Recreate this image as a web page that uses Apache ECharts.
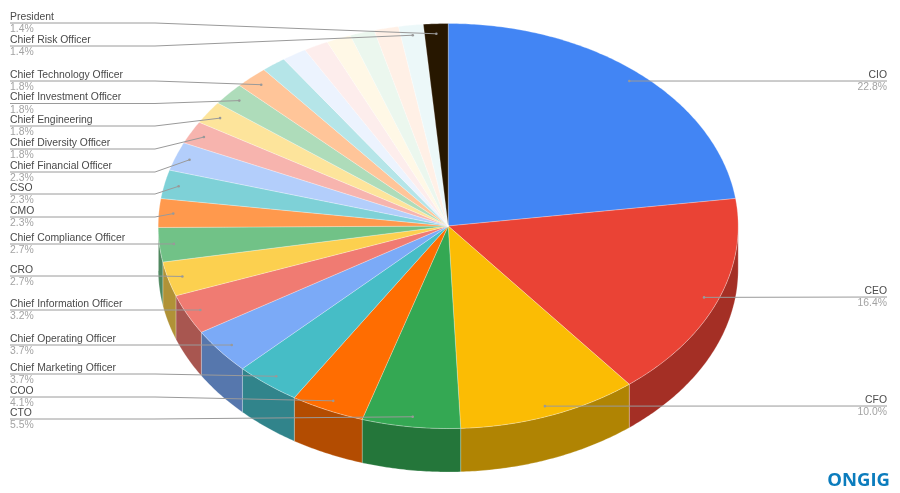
<!DOCTYPE html>
<html><head><meta charset="utf-8">
<style>html,body{margin:0;padding:0;background:#fff}#c{width:900px;height:493px}</style>
<script src="https://cdn.jsdelivr.net/npm/echarts@6/dist/echarts.min.js"></script>
</head><body><div id="c"></div>
<script>
const categories = ['CIO','CEO','CFO','CTO','COO','Chief Marketing Officer','Chief Operating Officer','Chief Information Officer','CRO','Chief Compliance Officer','CMO','CSO','Chief Financial Officer','Chief Diversity Officer','Chief Engineering','Chief Investment Officer','Chief Technology Officer','','','','','','','Chief Risk Officer','President'];
const counts = [50,36,22,12,9,8,8,7,6,6,5,5,5,4,4,4,4,3,3,3,3,3,3,3,3];
const colors = ['#4285F4','#EA4335','#FBBC04','#34A853','#FF6D01','#46BDC6','#7BAAF7','#F07B72','#FCD04F','#71C287','#FF994D','#7ED1D7','#B3CEFB','#F7B4AE','#FDE49B','#AEDCBA','#FFC599','#B5E5E8','#ECF3FE','#FDEDEC','#FFF8E6','#EBF7EE','#FFF0E6','#ECF8F9','#271700'];

// layout of the tilted pie
const CX = 448.2, CY = 226, RX = 290, RY = 202.5, DEPTH = 43.5, ANCHOR = 0.95;
const ELBOW_X = 155, LEFT_X = 10, RIGHT_X = 887;
// height of each label's leader line, by category
const leaderY = {'CIO':81,'CEO':297,'CFO':406,'CTO':419,'COO':397,'Chief Marketing Officer':374,'Chief Operating Officer':345,'Chief Information Officer':310,'CRO':276,'Chief Compliance Officer':244,'CMO':217,'CSO':194,'Chief Financial Officer':172,'Chief Diversity Officer':149,'Chief Engineering':126,'Chief Investment Officer':103.5,'Chief Technology Officer':81,'Chief Risk Officer':46,'President':23};

const total = counts.reduce((a,b)=>a+b,0);
const startAt = []; counts.reduce((a,b,i)=>(startAt[i]=a,a+b),0);
const ang = s => s/total*2*Math.PI;
const pt = (t,f=1,dy=0) => [CX+RX*f*Math.sin(t), CY-RY*f*Math.cos(t)+dy];
const arc = (a,b,dy=0) => { const n=Math.max(2,Math.ceil((b-a)/0.01)), p=[]; for(let k=0;k<=n;k++) p.push(pt(a+(b-a)*k/n,1,dy)); return p; };
const darken = c => { const n=parseInt(c.slice(1),16), f=.7; return 'rgb('+[(n>>16)&255,(n>>8)&255,n&255].map(v=>Math.round(v*f)).join(',')+')'; };
const seriesData = counts.map((v,i)=>[i,v]);

const chart = echarts.init(document.getElementById('c'),null,{renderer:'canvas'});
chart.setOption({
  animation:false,
  backgroundColor:'#fff',
  graphic:[{type:'text',x:890,y:480.5,style:{text:'ONGIG',fill:'#0b7cbd',font:'700 18.5px "Open Sans"',align:'right',verticalAlign:'middle'}}],
  series:[
    {type:'custom',coordinateSystem:'none',silent:true,z:1,data:seriesData,
     renderItem(params,api){
       const i=api.value(0), a=ang(startAt[i]), b=a+ang(api.value(1));
       const lo=Math.max(a,Math.PI/2), hi=Math.min(b,Math.PI*1.5);
       if(hi<=lo) return {type:'group',children:[]};
       const top=arc(lo,hi), bot=arc(lo,hi,DEPTH).reverse();
       return {type:'polygon',shape:{points:top.concat(bot)},style:{fill:darken(colors[i]),stroke:'rgba(255,255,255,.35)',lineWidth:.7}};
     }},
    {type:'custom',coordinateSystem:'none',silent:true,z:2,data:seriesData,
     renderItem(params,api){
       const i=api.value(0), a=ang(startAt[i]), b=a+ang(api.value(1));
       return {type:'polygon',shape:{points:[[CX,CY]].concat(arc(a,b))},style:{fill:colors[i],stroke:'rgba(255,255,255,.45)',lineWidth:.6}};
     }},
    {type:'custom',coordinateSystem:'none',silent:true,z:3,data:seriesData,
     renderItem(params,api){
       const i=api.value(0), name=categories[i];
       if(!name) return {type:'group',children:[]};
       const v=api.value(1), mid=ang(startAt[i]+v/2), p=pt(mid,ANCHOR), y=leaderY[name];
       const left=mid>Math.PI;
       const pts=left?[[LEFT_X,y],[ELBOW_X,y],p]:[p,[RIGHT_X,y]];
       const tx=left?LEFT_X:RIGHT_X, align=left?'left':'right';
       const font='10.4px "Liberation Sans", Arial, sans-serif';
       return {type:'group',children:[
         {type:'polyline',shape:{points:pts},style:{fill:null,stroke:'#9a9a9a',lineWidth:1}},
         {type:'circle',shape:{cx:p[0],cy:p[1],r:1.3},style:{fill:'#999'}},
         {type:'text',style:{x:tx,y:y-1,text:name,font,fill:'#4a4a4a',align,verticalAlign:'bottom'}},
         {type:'text',style:{x:tx,y:y+1.6,text:(v/total*100).toFixed(1)+'%',font,fill:'#a3a3a3',align,verticalAlign:'top'}}
       ]};
     }}
  ]
});
</script></body></html>
